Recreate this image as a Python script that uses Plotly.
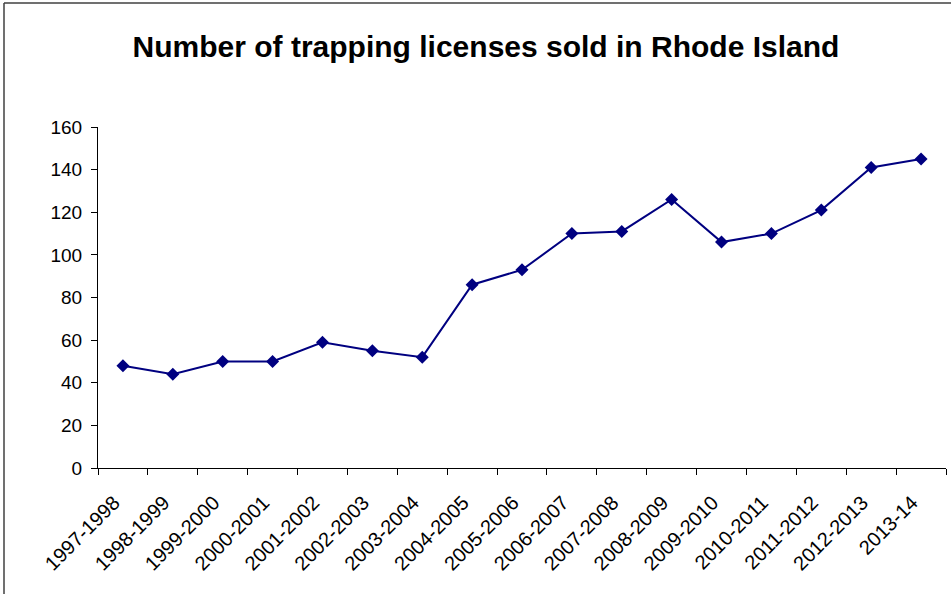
import plotly.graph_objects as go

seasons = ["1997-1998", "1998-1999", "1999-2000", "2000-2001", "2001-2002", "2002-2003",
           "2003-2004", "2004-2005", "2005-2006", "2006-2007", "2007-2008", "2008-2009",
           "2009-2010", "2010-2011", "2011-2012", "2012-2013", "2013-14"]
licenses = [48, 44, 50, 50, 59, 55, 52, 86, 93, 110, 111, 126, 106, 110, 121, 141, 145]
y_ticks = [0, 20, 40, 60, 80, 100, 120, 140, 160]

W, H = 951, 594
L, R, T, B = 98, 5, 127, 126

fig = go.Figure()
fig.add_trace(go.Scatter(
    x=seasons, y=licenses, mode="lines+markers",
    line=dict(color="#000080", width=2),
    marker=dict(symbol="diamond", size=10, color="#000080"),
    showlegend=False, hoverinfo="x+y",
))

fig.update_layout(
    width=W, height=H,
    margin=dict(l=L, r=R, t=T, b=B, autoexpand=False),
    paper_bgcolor="white", plot_bgcolor="white",
    font=dict(family="Liberation Sans, Arial, sans-serif", color="black", size=20),
    title=dict(text="<b>Number of trapping licenses sold in Rhode Island</b>",
               x=486 / W, xanchor="center", xref="container",
               y=1 - 46 / H, yanchor="middle", yref="container",
               font=dict(size=30, color="black")),
    xaxis=dict(type="category", range=[-0.5, len(seasons) - 0.5], automargin=False,
               showline=True, linecolor="black", linewidth=1,
               ticks="outside", ticklen=6, tickcolor="black", tickson="boundaries",
               tickangle=-45, showgrid=False, zeroline=False,
               ticklabelstandoff=14, ticklabelshift=-9, tickfont=dict(size=20)),
    yaxis=dict(range=[0, 160], tickvals=y_ticks, automargin=False,
               showline=True, linecolor="black", linewidth=1,
               ticks="outside", ticklen=6, tickcolor="black",
               showgrid=False, zeroline=False, ticklabelstandoff=5,
               tickfont=dict(size=19)),
)

plot_w = W - L - R
plot_h = H - T - B
fig.add_shape(type="line", xref="paper", yref="paper",
              x0=(4 - L) / plot_w, x1=(W + 10 - L) / plot_w,
              y0=(H - B - 3) / plot_h, y1=(H - B - 3) / plot_h,
              line=dict(color="#404040", width=1.5))
fig.add_shape(type="line", xref="paper", yref="paper",
              x0=(4 - L) / plot_w, x1=(4 - L) / plot_w,
              y0=(H - B - 3) / plot_h, y1=(H - B - H - 10) / plot_h,
              line=dict(color="#404040", width=1.5))

fig.write_html("out.html", config={"displayModeBar": False},
               post_script="document.body.style.margin='0';")
